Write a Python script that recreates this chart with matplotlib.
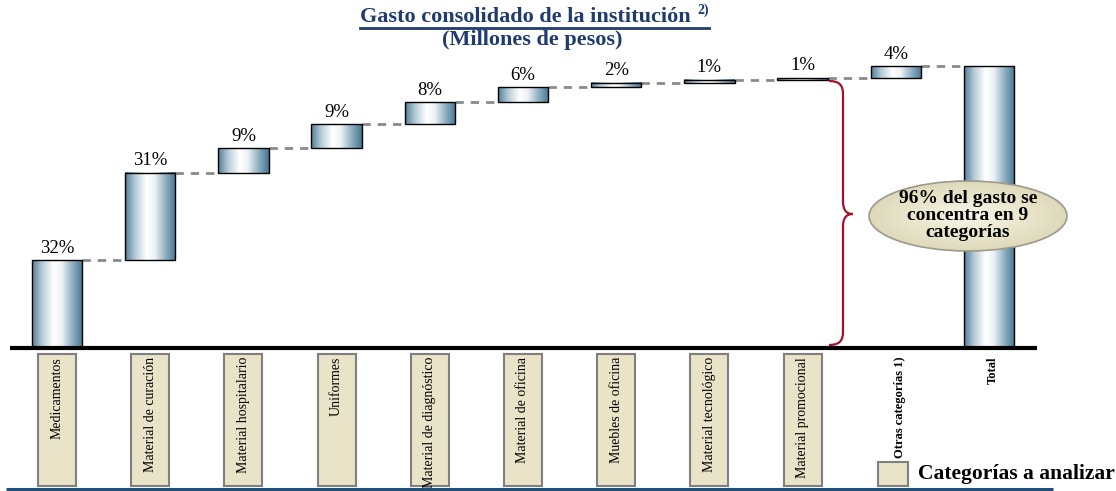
import numpy as np
import matplotlib
matplotlib.use('Agg')
import matplotlib.pyplot as plt
from matplotlib.colors import LinearSegmentedColormap
from matplotlib.patches import Rectangle, Ellipse, PathPatch
from matplotlib.path import Path
from matplotlib.lines import Line2D

# ---------------- data ----------------
categories = ["Medicamentos", "Material de curación", "Material hospitalario", "Uniformes",
              "Material de diagnóstico", "Material de oficina", "Muebles de oficina",
              "Material tecnológico", "Material promocional", "Otras categorías 1)", "Total"]
values = [31.2, 30.9, 8.8, 8.5, 7.8, 5.3, 1.5, 1.1, 0.7, 4.2]
pct_labels = ["32%", "31%", "9%", "9%", "8%", "6%", "2%", "1%", "1%", "4%"]
analyzed = [True] * 9 + [False, False]
title = "Gasto consolidado de la institución"
title_sup = "2)"
subtitle = "(Millones de pesos)"
callout = "96% del gasto se\nconcentra en 9\ncategorías"
legend_label = "Categorías a analizar"

serif = ['Liberation Serif', 'DejaVu Serif']

# ---------------- layout ----------------
W, H = 1116, 491
fig = plt.figure(figsize=(W / 100, H / 100), dpi=100)
ax = fig.add_axes([0, 0, 1, 1])
x0_px, step_px = 57, 93.2
base_px, top_px = 348, 66
scale = 100 / (base_px - top_px)


def px(x):
    return (x - x0_px) / step_px


def py(y):
    return (base_px - y) * scale


n = len(categories)
xs = np.arange(n)
cum = np.concatenate([[0], np.cumsum(values)])
bottoms = list(cum[:-1]) + [0]
heights = list(values) + [cum[-1]]
bw = 0.54

bars = ax.bar(xs, heights, bottom=bottoms, width=bw, facecolor='none',
              edgecolor='black', lw=1, zorder=3)

cmap = LinearSegmentedColormap.from_list(
    'steel', [(0, '#4f7e98'), (0.2, '#b7ccd8'), (0.42, '#ffffff'),
              (0.58, '#eef3f6'), (0.8, '#8eafc1'), (1.0, '#457690')])
grad = np.linspace(0, 1, 256).reshape(1, -1)
for p in bars.patches:
    bx, by, bwid, bh = p.get_x(), p.get_y(), p.get_width(), p.get_height()
    ax.imshow(grad, extent=[bx, bx + bwid, by, by + bh], aspect='auto',
              cmap=cmap, zorder=2, interpolation='bilinear')

# connectors
for i in range(n - 1):
    y = cum[i + 1] if i < n - 2 else cum[-1]
    ax.plot([xs[i] + bw / 2, xs[i + 1] - bw / 2], [y, y], ls=(0, (3, 2.5)),
            color='#8a8a8a', lw=2, zorder=1)

# percent labels
for i, lab in enumerate(pct_labels):
    ax.annotate(lab, (xs[i], cum[i + 1]), xytext=(0, 2.5), textcoords='offset points',
                ha='center', va='bottom', fontsize=13.5, family=serif, color='black')

# baseline
ax.plot([px(10), px(1037)], [0, 0], color='black', lw=3, zorder=5,
        solid_capstyle='butt')

# category label boxes
box_w = 38 / step_px
box_top, box_bot = py(354), py(486)
for i, cat in enumerate(categories):
    cx = xs[i]
    if analyzed[i]:
        ax.add_patch(Rectangle((cx - box_w / 2, box_bot), box_w, box_top - box_bot,
                               facecolor='#e9e3c8', edgecolor='#7f7f7f', lw=1.5, zorder=3))
        ax.text(cx, py(357), cat, rotation=90, ha='center', va='top',
                fontsize=10, family=serif, zorder=4)
    else:
        ax.text(cx + 4 / step_px, py(357), cat, rotation=90, ha='center', va='top',
                fontsize=9, family=serif, fontweight='bold', zorder=4)

# brace
bx0, bx1, bx2 = px(829), px(843), px(853)
yt, ym, yb = py(81), py(214), py(345)
r = 10 * scale
verts = [(bx0, yt), (px(840), yt), (bx1, yt - 0.5 * r), (bx1, yt - 1.3 * r),
         (bx1, ym + 1.3 * r),
         (bx1, ym + 0.3 * r), (px(847), ym), (bx2, ym),
         (px(847), ym), (bx1, ym - 0.3 * r), (bx1, ym - 1.3 * r),
         (bx1, yb + 1.3 * r),
         (bx1, yb + 0.5 * r), (px(840), yb), (bx0, yb)]
codes = [Path.MOVETO, Path.CURVE4, Path.CURVE4, Path.CURVE4,
         Path.LINETO,
         Path.CURVE4, Path.CURVE4, Path.CURVE4,
         Path.CURVE4, Path.CURVE4, Path.CURVE4,
         Path.LINETO,
         Path.CURVE4, Path.CURVE4, Path.CURVE4]
ax.add_patch(PathPatch(Path(verts, codes), facecolor='none', edgecolor='#a3112c',
                       lw=1.6, zorder=4))

# callout ellipse
ecx, ecy = px(968), py(216)
ew, eh = 198 / step_px, 70 * scale
ell = Ellipse((ecx, ecy), ew, eh, facecolor='none', edgecolor='#9c9a8a', lw=1.2, zorder=7)
ax.add_patch(ell)
ecmap = LinearSegmentedColormap.from_list('beige', ['#f7f5e8', '#e9e5cb', '#d9d3b2'])
gx, gy = np.meshgrid(np.linspace(-1, 1, 200), np.linspace(-1, 1, 100))
rad = np.sqrt(gx ** 2 + gy ** 2)
im = ax.imshow(rad, extent=[ecx - ew / 2, ecx + ew / 2, ecy - eh / 2, ecy + eh / 2],
               aspect='auto', cmap=ecmap, vmin=0, vmax=1.2, zorder=6)
im.set_clip_path(ell)
ax.text(ecx, ecy, callout, ha='center', va='center', fontsize=14, family=serif,
        fontweight='bold', linespacing=1.0, zorder=8)

# legend
ax.add_patch(Rectangle((px(878), py(486)), 30 / step_px, 24 * scale,
                       facecolor='#e9e3c8', edgecolor='#7f7f7f', lw=1.5, zorder=3))
ax.text(px(918), py(474), legend_label, ha='left', va='center', fontsize=15.5,
        family=serif, fontweight='bold')

# bottom rule
ax.plot([px(6), px(1053)], [py(489), py(489)], color='#1f4e79', lw=2.2,
        solid_capstyle='butt')

ax.set_xlim(px(0), px(W))
ax.set_ylim(py(H), py(0))
ax.axis('off')

# title
tcol = '#1f3b70'
t = fig.text(525 / W, 1 - 17 / H, title, ha='center', va='center', fontsize=16,
             family=serif, fontweight='bold', color=tcol)
fig.text(532 / W, 1 - 40 / H, subtitle, ha='center', va='center', fontsize=16,
         family=serif, fontweight='bold', color=tcol)
fig.canvas.draw()
bb = t.get_window_extent()
s = fig.text((bb.x1 + 7) / W, (bb.y1 - 3) / H, title_sup, ha='left', va='center',
             fontsize=10, family=serif, fontweight='bold', color=tcol)
fig.canvas.draw()
sb = s.get_window_extent()
fig.add_artist(Line2D([bb.x0 / W, sb.x1 / W], [(H - 28) / H, (H - 28) / H],
                      color=tcol, lw=2, transform=fig.transFigure))

fig.savefig('out.png', dpi=100)
